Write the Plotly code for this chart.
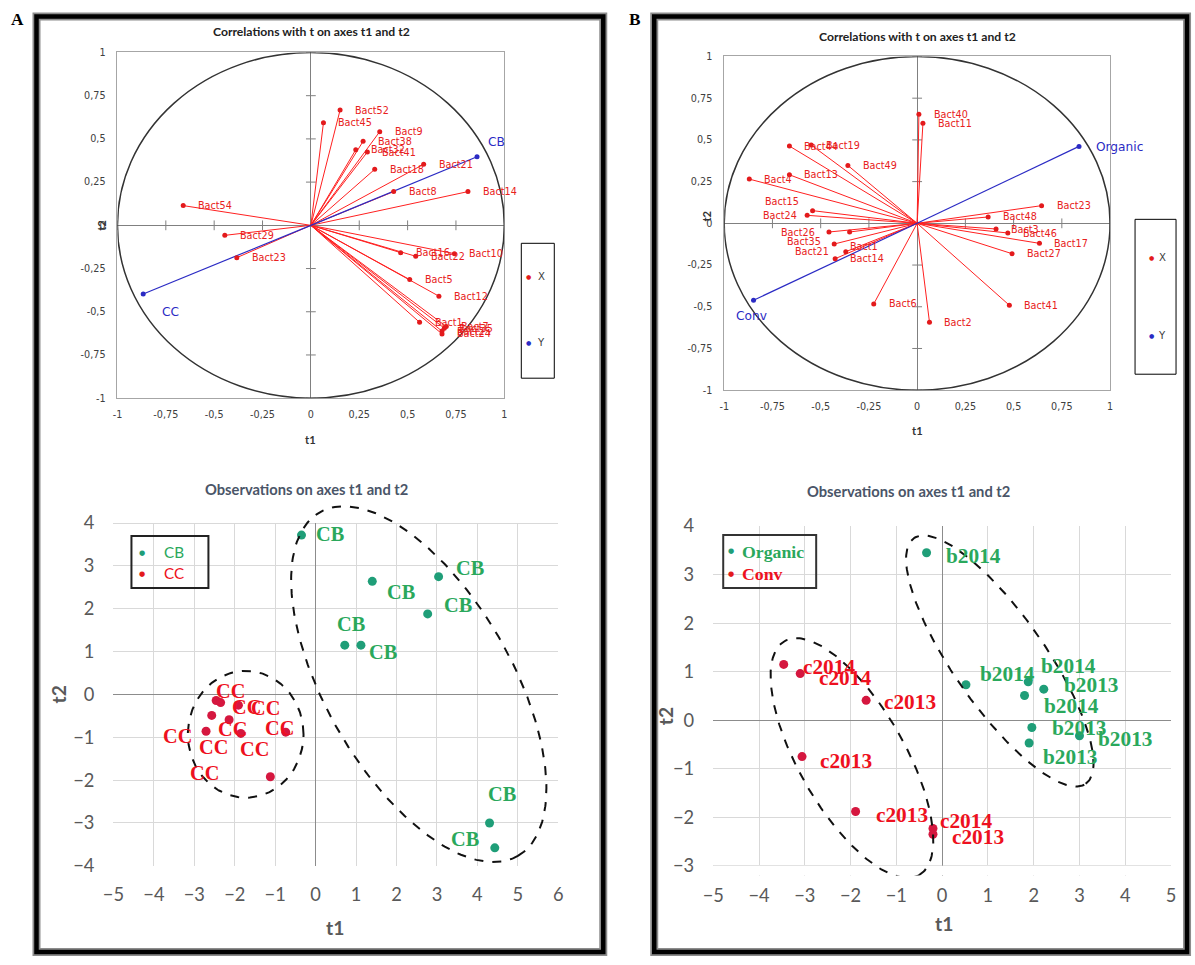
import numpy as np
import plotly.graph_objects as go

W, H = 1195, 965

# ---------------- Panel A : correlation circle ----------------
a_var_names = ["Bact52", "Bact45", "Bact9", "Bact38", "Bact32", "Bact41", "Bact18", "Bact21",
               "Bact8", "Bact14", "Bact54", "Bact29", "Bact23", "Bact16", "Bact22", "Bact10",
               "Bact5", "Bact12", "Bact1", "Bact7", "Bact35", "Bact25", "Bact24"]
a_var_t1 = [0.151, 0.065, 0.356, 0.270, 0.232, 0.292, 0.330, 0.583,
            0.428, 0.812, -0.660, -0.445, -0.383, 0.464, 0.542, 0.742,
            0.511, 0.662, 0.562, 0.700, 0.690, 0.678, 0.678]
a_var_t2 = [0.667, 0.594, 0.542, 0.486, 0.437, 0.424, 0.324, 0.353,
            0.195, 0.195, 0.114, -0.058, -0.187, -0.158, -0.179, -0.164,
            -0.314, -0.410, -0.561, -0.585, -0.595, -0.612, -0.628]
a_grp_names = ["CB", "CC"]
a_grp_t1 = [0.859, -0.867]
a_grp_t2 = [0.397, -0.397]

# ---------------- Panel B : correlation circle ----------------
b_var_names = ["Bact40", "Bact11", "Bact44", "Bact19", "Bact49", "Bact13", "Bact4", "Bact15",
               "Bact24", "Bact26", "Bact1", "Bact35", "Bact21", "Bact14", "Bact6", "Bact2",
               "Bact41", "Bact27", "Bact17", "Bact46", "Bact3", "Bact48", "Bact23"]
b_var_t1 = [0.009, 0.030, -0.662, -0.549, -0.359, -0.662, -0.870, -0.542,
            -0.570, -0.457, -0.350, -0.430, -0.370, -0.425, -0.225, 0.064,
            0.478, 0.492, 0.634, 0.470, 0.409, 0.368, 0.645]
b_var_t2 = [0.654, 0.599, 0.463, 0.469, 0.347, 0.291, 0.265, 0.076,
            0.048, -0.052, -0.052, -0.124, -0.170, -0.212, -0.483, -0.593,
            -0.491, -0.182, -0.120, -0.058, -0.034, 0.038, 0.106]
b_grp_names = ["Organic", "Conv"]
b_grp_t1 = [0.839, -0.848]
b_grp_t2 = [0.461, -0.461]

corr_ticks = [-1, -0.75, -0.5, -0.25, 0, 0.25, 0.5, 0.75, 1]
corr_ticktext = ["-1", "-0,75", "-0,5", "-0,25", "0", "0,25", "0,5", "0,75", "1"]

# ---------------- Panel A : observations ----------------
a_cb_t1 = [-0.35, 1.40, 3.04, 2.77, 0.72, 1.12, 4.30, 4.43]
a_cb_t2 = [3.72, 2.64, 2.75, 1.88, 1.15, 1.15, -3.00, -3.58]
a_cc_t1 = [-2.46, -2.35, -1.91, -2.57, -2.14, -2.71, -1.85, -0.74, -1.12]
a_cc_t2 = [-0.14, -0.19, -0.25, -0.49, -0.59, -0.86, -0.91, -0.88, -1.92]

# ---------------- Panel B : observations ----------------
b_org_t1 = [-0.34, 0.52, 1.88, 2.22, 1.80, 1.96, 3.00, 1.90]
b_org_t2 = [3.45, 0.73, 0.79, 0.64, 0.51, -0.15, -0.32, -0.47]
b_org_lbl = ["b2014", "b2014", "b2014", "b2013", "b2014", "b2013", "b2013", "b2013"]
b_conv_t1 = [-3.46, -3.10, -1.66, -3.06, -1.89, -0.20, -0.20]
b_conv_t2 = [1.15, 0.96, 0.41, -0.75, -1.88, -2.23, -2.35]
b_conv_lbl = ["c2014", "c2014", "c2013", "c2013", "c2013", "c2014", "c2013"]

obs_a_xticks = list(range(-5, 7))
obs_a_yticks = list(range(-4, 5))
obs_b_xticks = list(range(-5, 6))
obs_b_yticks = list(range(-3, 5))

# ---------------- styles (offsets in px) ----------------
b_var_off = {"Bact15": (-12, 9, "right"), "Bact24": (-8, 0, "right"), "Bact26": (-12, 0, "right"),
             "Bact35": (-11, 3, "right"), "Bact21": (-15, 0, "right"), "Bact1": (-2, -14, "left")}
a_cb_off = [(29, 1), (29, -11), (31, 9), (30, 9), (6, 21), (22, -7), (12, 29), (-30, 9)]
a_cc_off = [(14, 9), (45, -5), (8, -2), (2, -32), (3, -9), (-29, -5), (14, -16), (-6, 4), (-66, 4)]
b_org_off = [(17, -3), (12, 11), (11, 16), (18, 4), (17, -11), (18, -1), (17, -3), (12, -14)]
b_conv_off = [(17, -3), (17, -4), (16, -2), (16, -4), (18, -4), (5, 7), (17, -3)]

# group ellipses (center, half-axis vector 1, half-axis vector 2) in data units
ell_a = [((-1.73, -0.93), (1.43, 0.0), (0.0, 1.48)),
         ((2.55, 0.24), (2.45, -4.01), (1.99, 1.08))]
ell_b = [((-1.97, -0.78), (1.47, -2.41), (1.00, 0.545)),
         ((1.26, 1.22), (1.876, -2.53), (0.82, 0.543))]

RED_LINE = "#FF2020"
RED_DOT = "#E31A1C"
BLUE = "#2B2BC4"
GREEN_PT = "#1F9E78"
GREEN_TX = "#2AA85C"
RED_PT = "#D5173F"
RED_TX = "#EE1020"

# the page is photographed slightly reduced and shifted; convert target pixels to page pixels
SX, OX, SY, OY = 0.987, 9.5, 0.978, 10.5
FS = 1.015  # font compensation


def tx(p):
    return (p - OX) / SX


def ty(p):
    return (p - OY) / SY


def dom_x(p0, p1):
    return [tx(p0) / W, tx(p1) / W]


def dom_y(top, bottom):
    return [1 - ty(bottom) / H, 1 - ty(top) / H]


def rays(t1s, t2s):
    xs, ys = [], []
    for a, b in zip(t1s, t2s):
        xs += [0, a, None]
        ys += [0, b, None]
    return xs, ys


def ellipse(c, m, n, num=240):
    t = np.linspace(0, 2 * np.pi, num)
    return (c[0] + m[0] * np.cos(t) + n[0] * np.sin(t),
            c[1] + m[1] * np.cos(t) + n[1] * np.sin(t))


fig = go.Figure()
ann = []
shapes = []

# ---------- correlation circles ----------
for k, (names, t1, t2, gn, g1, g2) in enumerate([
        (a_var_names, a_var_t1, a_var_t2, a_grp_names, a_grp_t1, a_grp_t2),
        (b_var_names, b_var_t1, b_var_t2, b_grp_names, b_grp_t1, b_grp_t2)]):
    xr = "x" if k == 0 else "x2"
    yr = "y" if k == 0 else "y2"
    nz = [v for v in corr_ticks if v != 0]
    fig.add_trace(go.Scatter(x=nz, y=[0] * len(nz), mode="markers", xaxis=xr, yaxis=yr,
                             marker=dict(symbol="line-ns", size=7, line=dict(width=1, color="#808080")),
                             showlegend=False, hoverinfo="skip"))
    fig.add_trace(go.Scatter(x=[0] * len(nz), y=nz, mode="markers", xaxis=xr, yaxis=yr,
                             marker=dict(symbol="line-ew", size=7, line=dict(width=1, color="#808080")),
                             showlegend=False, hoverinfo="skip"))
    lx, ly = rays(t1, t2)
    fig.add_trace(go.Scatter(x=lx, y=ly, mode="lines", xaxis=xr, yaxis=yr,
                             line=dict(color=RED_LINE, width=1), showlegend=False, hoverinfo="skip"))
    gx, gy = rays(g1, g2)
    fig.add_trace(go.Scatter(x=gx, y=gy, mode="lines", xaxis=xr, yaxis=yr,
                             line=dict(color=BLUE, width=1.2), showlegend=False, hoverinfo="skip"))
    fig.add_trace(go.Scatter(x=t1, y=t2, mode="markers", xaxis=xr, yaxis=yr,
                             marker=dict(color=RED_DOT, size=5), showlegend=False))
    fig.add_trace(go.Scatter(x=g1, y=g2, mode="markers", xaxis=xr, yaxis=yr,
                             marker=dict(color=BLUE, size=5), showlegend=False))
    shapes.append(dict(type="circle", xref=xr, yref=yr, x0=-1, y0=-1, x1=1, y1=1,
                       line=dict(color="#333333", width=1.5)))
    for n, a, b in zip(names, t1, t2):
        if k == 1 and n in b_var_off:
            dx, dy, anc = b_var_off[n]
        else:
            dx, dy, anc = 13, 0, "left"
        ann.append(dict(x=a, y=b, xref=xr, yref=yr, text=n, showarrow=False,
                        xanchor=anc, xshift=dx, yshift=dy,
                        font=dict(family="DejaVu Sans", size=9.5 * FS, color="#E82020")))

# group labels on circles
gfont = dict(family="DejaVu Sans", size=12 * FS, color=BLUE)
ann.append(dict(x=a_grp_t1[0], y=a_grp_t2[0], xref="x", yref="y", text=a_grp_names[0], showarrow=False,
                xanchor="left", xshift=9, yshift=15, font=gfont))
ann.append(dict(x=a_grp_t1[1], y=a_grp_t2[1], xref="x", yref="y", text=a_grp_names[1], showarrow=False,
                xanchor="left", xshift=17, yshift=-18, font=gfont))
ann.append(dict(x=b_grp_t1[0], y=b_grp_t2[0], xref="x2", yref="y2", text=b_grp_names[0], showarrow=False,
                xanchor="left", xshift=15, yshift=-1, font=gfont))
ann.append(dict(x=b_grp_t1[1], y=b_grp_t2[1], xref="x2", yref="y2", text=b_grp_names[1], showarrow=False,
                xanchor="center", xshift=-2, yshift=-16, font=gfont))

# ---------- observations A ----------
fig.add_trace(go.Scatter(x=a_cb_t1, y=a_cb_t2, mode="markers", xaxis="x3", yaxis="y3",
                         marker=dict(color=GREEN_PT, size=9), showlegend=False))
fig.add_trace(go.Scatter(x=a_cc_t1, y=a_cc_t2, mode="markers", xaxis="x3", yaxis="y3",
                         marker=dict(color=RED_PT, size=9), showlegend=False))
for c, m, n in ell_a:
    ex, ey = ellipse(c, m, n)
    fig.add_trace(go.Scatter(x=ex, y=ey, mode="lines", xaxis="x3", yaxis="y3",
                             line=dict(color="#111111", width=2, dash="dash"),
                             showlegend=False, hoverinfo="skip"))
serif = "Liberation Serif"
for (a, b), (dx, dy) in zip(zip(a_cb_t1, a_cb_t2), a_cb_off):
    ann.append(dict(x=a, y=b, xref="x3", yref="y3", text="<b>CB</b>", showarrow=False,
                    xanchor="center", xshift=dx, yshift=dy, font=dict(family=serif, size=20 * FS, color=GREEN_TX)))
for (a, b), (dx, dy) in zip(zip(a_cc_t1, a_cc_t2), a_cc_off):
    ann.append(dict(x=a, y=b, xref="x3", yref="y3", text="<b>CC</b>", showarrow=False,
                    xanchor="center", xshift=dx, yshift=dy, font=dict(family=serif, size=20 * FS, color=RED_TX)))

# ---------- observations B ----------
fig.add_trace(go.Scatter(x=b_org_t1, y=b_org_t2, mode="markers", xaxis="x4", yaxis="y4",
                         marker=dict(color=GREEN_PT, size=9), showlegend=False))
fig.add_trace(go.Scatter(x=b_conv_t1, y=b_conv_t2, mode="markers", xaxis="x4", yaxis="y4",
                         marker=dict(color=RED_PT, size=9), showlegend=False))
for c, m, n in ell_b:
    ex, ey = ellipse(c, m, n)
    fig.add_trace(go.Scatter(x=ex, y=ey, mode="lines", xaxis="x4", yaxis="y4",
                             line=dict(color="#111111", width=2, dash="dash"),
                             showlegend=False, hoverinfo="skip"))
for a, b, t, (dx, dy) in zip(b_org_t1, b_org_t2, b_org_lbl, b_org_off):
    ann.append(dict(x=a, y=b, xref="x4", yref="y4", text="<b>%s</b>" % t, showarrow=False,
                    xanchor="left", xshift=dx, yshift=dy, font=dict(family=serif, size=21 * FS, color=GREEN_TX)))
for a, b, t, (dx, dy) in zip(b_conv_t1, b_conv_t2, b_conv_lbl, b_conv_off):
    ann.append(dict(x=a, y=b, xref="x4", yref="y4", text="<b>%s</b>" % t, showarrow=False,
                    xanchor="left", xshift=dx, yshift=dy, font=dict(family=serif, size=21 * FS, color=RED_TX)))

# hide grid overshoot outside the nominal ranges
shapes.append(dict(type="rect", xref="x3", yref="y3", x0=-5.2, x1=6.2, y0=4.0, y1=4.6,
                   fillcolor="white", line=dict(width=0), layer="between"))
shapes.append(dict(type="rect", xref="x4", yref="y4", x0=-5.2, x1=5.2, y0=-3.4, y1=-3.0,
                   fillcolor="white", line=dict(width=0), layer="between"))


# ---------- paper-level decorations ----------
def P(x, y):
    return tx(x) / W, 1 - ty(y) / H


def ptext(x, y, text, size, color, family="Lato", angle=0, anchor="center"):
    px, py = P(x, y)
    ann.append(dict(x=px, y=py, xref="paper", yref="paper", text=text, showarrow=False,
                    xanchor=anchor, yanchor="middle", textangle=angle,
                    font=dict(family=family, size=size * FS, color=color)))


def prect(x0, y0, x1, y1, color="black", width=1, raw=False):
    if raw:
        a0, b0 = x0 / W, 1 - y1 / H
        a1, b1 = x1 / W, 1 - y0 / H
    else:
        a0, b0 = P(x0, y1)
        a1, b1 = P(x1, y0)
    shapes.append(dict(type="rect", xref="paper", yref="paper", x0=a0, y0=b0, x1=a1, y1=b1,
                       line=dict(color=color, width=width), fillcolor="rgba(0,0,0,0)", layer="above"))


# panel frames (page pixels, right/bottom edges clamped to the page)
fa = (tx(35), ty(15), tx(602), H - 3)
fb = (tx(653), ty(15), W - 3, H - 3)
for f in (fa, fb):
    prect(*f, color="#8c8c8c", width=8, raw=True)
    prect(*f, color="black", width=4.5, raw=True)
ptext(16, 18, "<b>A</b>", 17, "black", family="Liberation Serif")
ptext(634, 18, "<b>B</b>", 17, "black", family="Liberation Serif")

# titles
ptext(310, 30, "<b>Correlations with t on axes t1 and t2</b>", 12, "#222222")
ptext(916, 35, "<b>Correlations with t on axes t1 and t2</b>", 12, "#222222")
ptext(305, 488, "<b>Observations on axes t1 and t2</b>", 14.5, "#4A5568")
ptext(907, 490, "<b>Observations on axes t1 and t2</b>", 14.5, "#4A5568")

# axis titles
ptext(309, 438, "<b>t1</b>", 11, "#333333")
ptext(100, 224, "<b>t2</b>", 11, "#333333", angle=-90)
ptext(916, 429, "<b>t1</b>", 11, "#333333")
ptext(705, 215, "<b>t2</b>", 11, "#333333", angle=-90)
ptext(334, 927, "<b>t1</b>", 19, "#595959")
ptext(57, 693, "<b>t2</b>", 19, "#595959", angle=-90)
ptext(943, 923, "<b>t1</b>", 19, "#595959")
ptext(665, 715, "<b>t2</b>", 19, "#595959", angle=-90)

# legends of correlation plots
prect(520, 242, 553, 377, "black", 1)
ptext(527, 275, "●", 6, RED_DOT, family="DejaVu Sans")
ptext(540, 275, "X", 10, "#404040", family="DejaVu Sans")
ptext(527, 341, "●", 6, BLUE, family="DejaVu Sans")
ptext(540, 341, "Y", 10, "#404040", family="DejaVu Sans")
prect(1134, 218, 1175, 373, "black", 1)
ptext(1150, 256, "●", 6, RED_DOT, family="DejaVu Sans")
ptext(1161, 256, "X", 10, "#404040", family="DejaVu Sans")
ptext(1150, 334, "●", 6, BLUE, family="DejaVu Sans")
ptext(1161, 334, "Y", 10, "#404040", family="DejaVu Sans")

# legends of observation plots
prect(130, 535, 207, 587, "#222222", 2)
ptext(141, 551, "●", 7, GREEN_PT, family="DejaVu Sans")
ptext(173, 551, "CB", 15, GREEN_TX)
ptext(141, 572, "●", 7, RED_DOT, family="DejaVu Sans")
ptext(173, 572, "CC", 15, RED_TX)
prect(722, 534, 815, 587, "#333333", 2)
ptext(730, 549, "●", 7, GREEN_PT, family="DejaVu Sans")
ptext(739, 551, "<b>Organic</b>", 17.5, GREEN_TX, family=serif, anchor="left")
ptext(730, 572, "●", 7, RED_DOT, family="DejaVu Sans")
ptext(739, 573, "<b>Conv</b>", 17.5, RED_TX, family=serif, anchor="left")

# ---------- axes ----------
corr_font = dict(family="DejaVu Sans", size=9.5 * FS, color="#404040")


def corr_axis(domain, standoff):
    return dict(domain=domain, range=[-1, 1], tickvals=corr_ticks, ticktext=corr_ticktext,
                showgrid=False, zeroline=True, zerolinecolor="#808080", zerolinewidth=1,
                showline=True, mirror=True, linecolor="#a6a6a6", linewidth=1, ticks="",
                tickfont=corr_font, ticklabelstandoff=standoff, fixedrange=True)


obs_font = dict(family="Lato", size=18 * FS, color="#595959")


def obs_axis(domain, rng, ticks, standoff):
    return dict(domain=domain, range=rng, tickvals=ticks, showgrid=True, gridcolor="#D9D9D9",
                gridwidth=1, zeroline=True, zerolinecolor="#8C8C8C", zerolinewidth=1,
                showline=False, ticks="", tickfont=obs_font, ticklabelstandoff=standoff,
                fixedrange=True)


layout = dict(
    width=W, height=H, margin=dict(l=0, r=0, t=0, b=0),
    paper_bgcolor="white", plot_bgcolor="white", showlegend=False,
    xaxis=dict(corr_axis(dom_x(116, 503), 7), anchor="y"),
    yaxis=dict(corr_axis(dom_y(51, 397), 9), anchor="x"),
    xaxis2=dict(corr_axis(dom_x(723, 1109), 7), anchor="y2"),
    yaxis2=dict(corr_axis(dom_y(55, 389), 9), anchor="x2"),
    xaxis3=dict(obs_axis(dom_x(112, 557), [-5, 6], obs_a_xticks, 16), anchor="y3"),
    yaxis3=dict(obs_axis(dom_y(865 - 8.45 * 42.875, 865), [-4, 4.45], obs_a_yticks, 18), anchor="x3"),
    xaxis4=dict(obs_axis(dom_x(712, 1170), [-5, 5], obs_b_xticks, 7), anchor="y4"),
    yaxis4=dict(obs_axis(dom_y(525, 865 + 0.2 * 48.57), [-3.2, 4], obs_b_yticks, 18), anchor="x4"),
    annotations=ann, shapes=shapes,
)
fig.update_layout(**layout)
fig.write_html("out.html", config={"displayModeBar": False},
               post_script="document.body.style.margin='0';document.body.style.padding='0';"
                           "document.documentElement.style.overflow='hidden';")
